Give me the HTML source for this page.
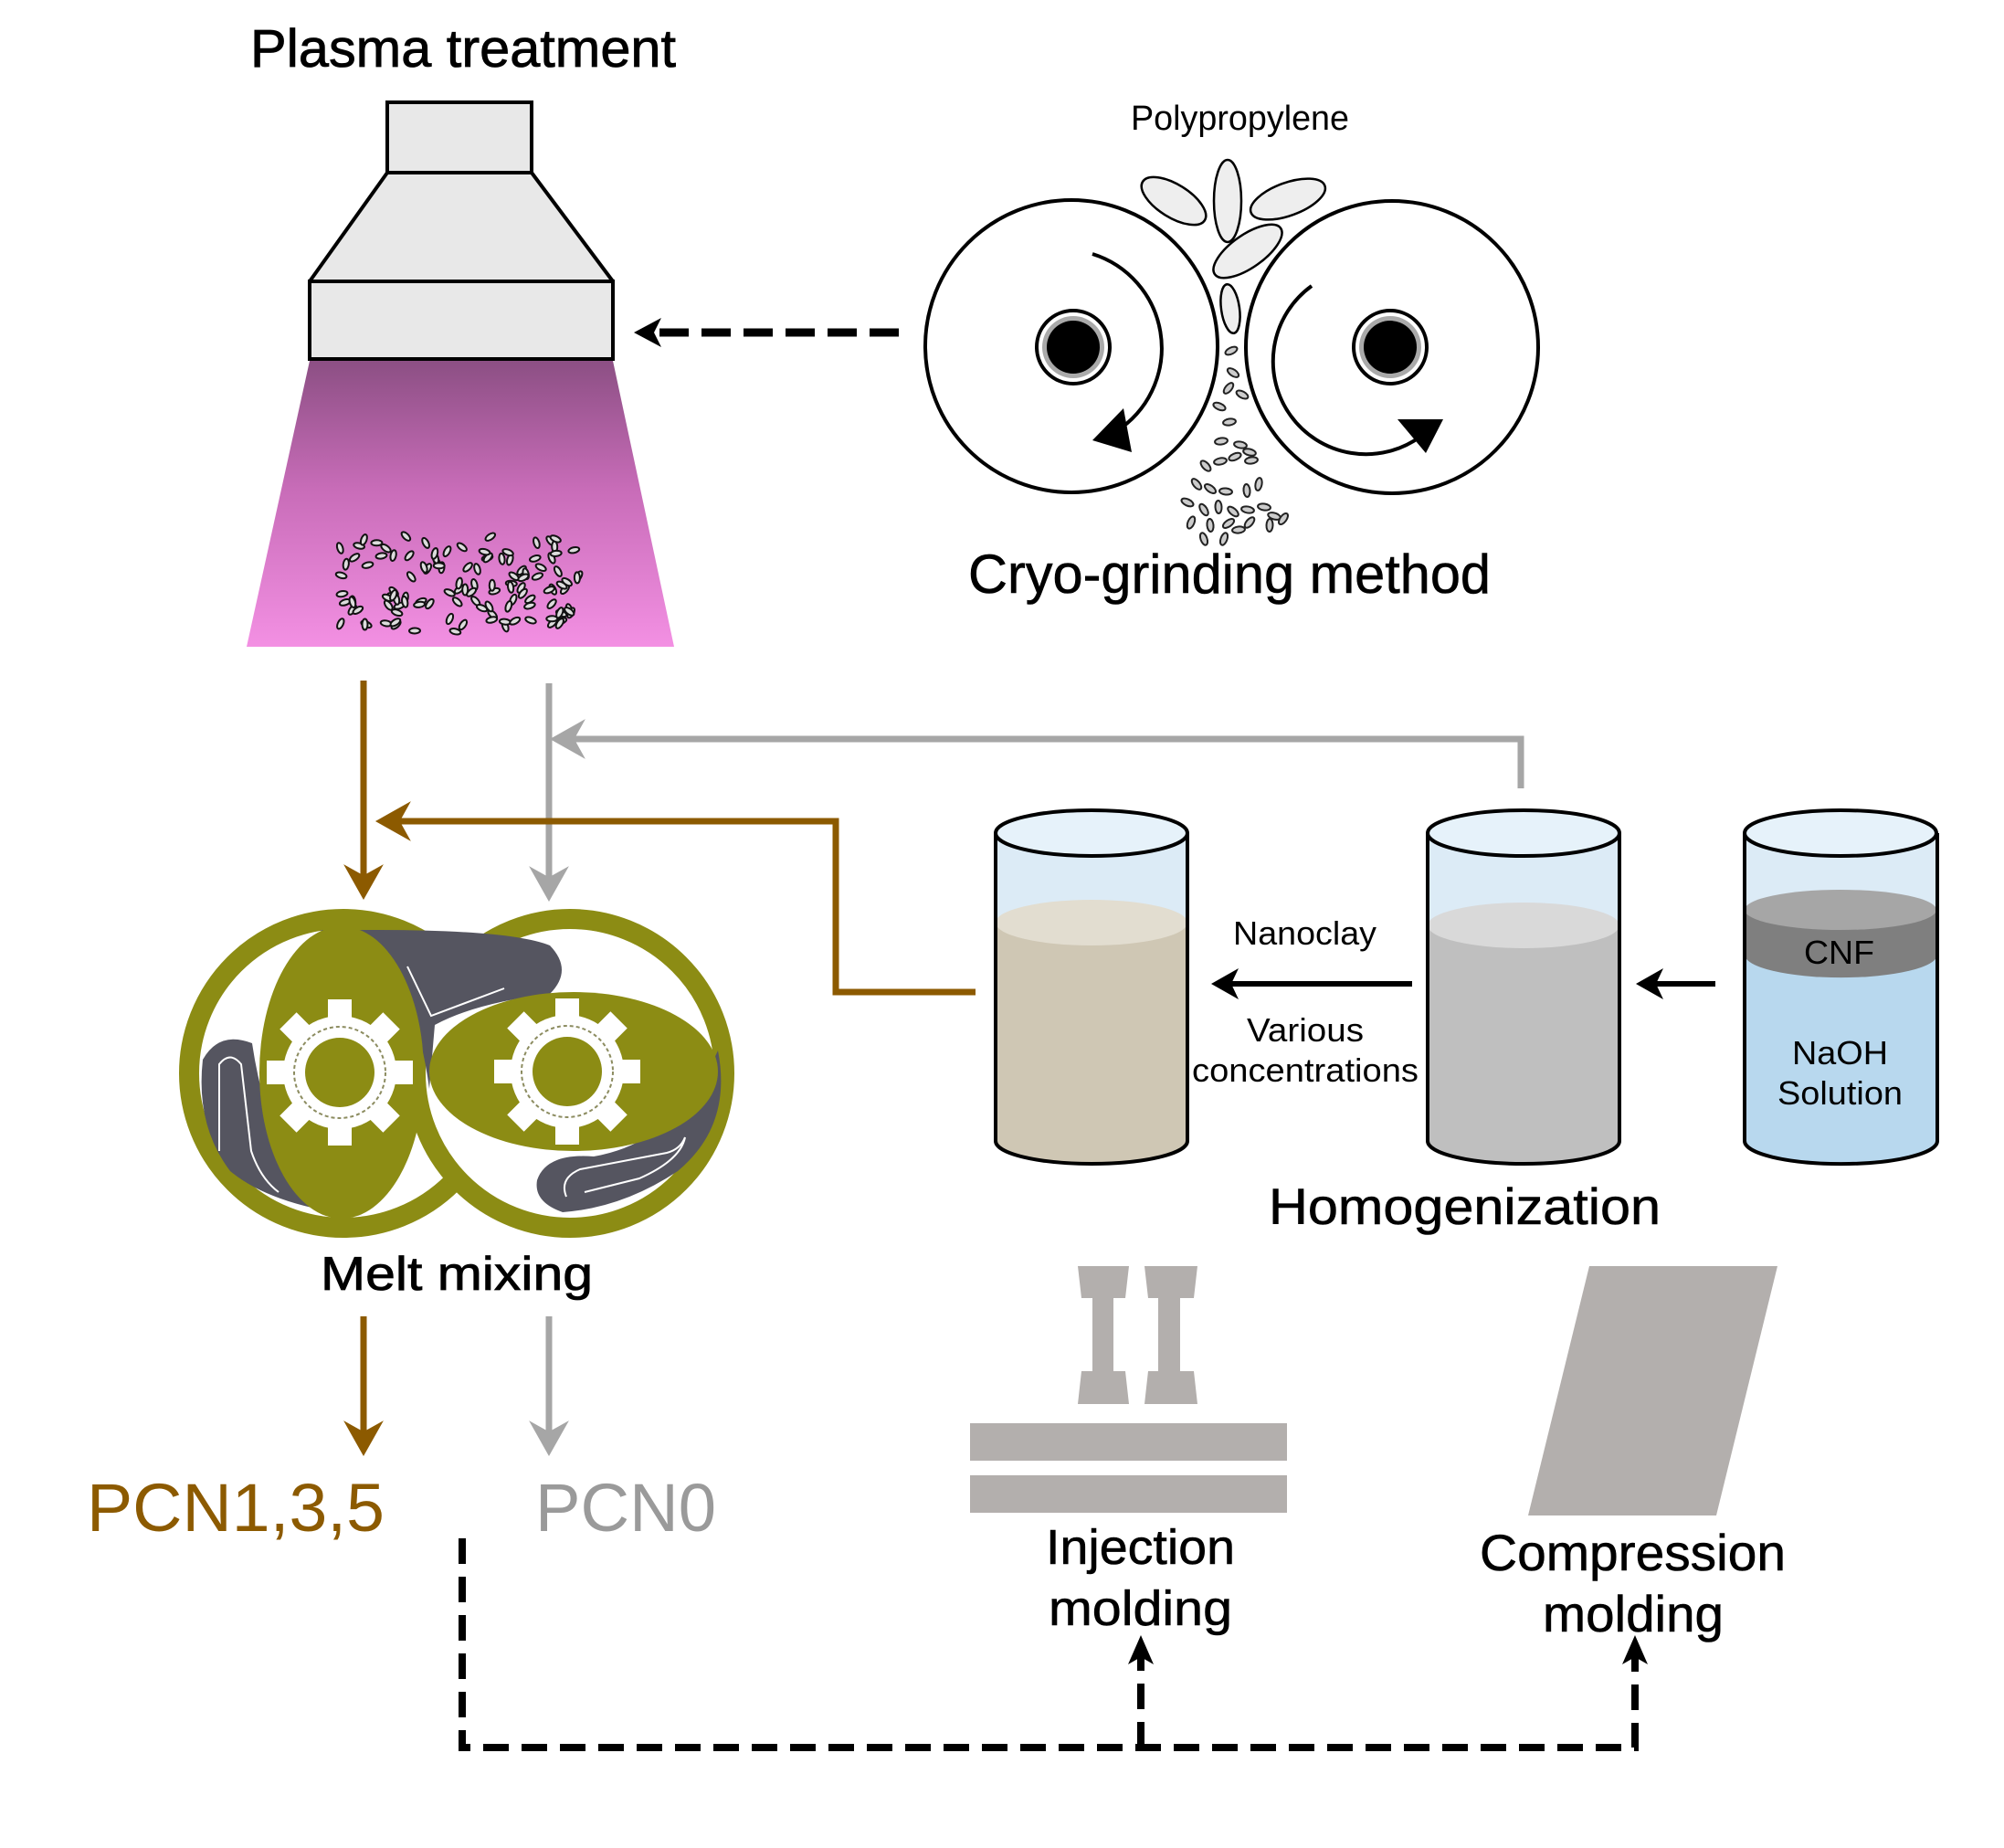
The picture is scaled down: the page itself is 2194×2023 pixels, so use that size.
<!DOCTYPE html>
<html><head><meta charset="utf-8"><style>
html,body{margin:0;padding:0;background:#fff;}
svg{display:block;}
text{font-family:"Liberation Sans",Arial,sans-serif;}
</style></head><body>
<svg id="s" width="2194" height="2023" viewBox="0 0 2194 2023" xmlns="http://www.w3.org/2000/svg">
<defs>
<linearGradient id="pink" x1="0" y1="0" x2="0" y2="1">
<stop offset="0" stop-color="#8c4f84"/><stop offset="0.45" stop-color="#c86cb8"/><stop offset="1" stop-color="#f390e3"/>
</linearGradient>
</defs>

<!-- Plasma -->
<text x="274" y="73" font-size="58" textLength="466" lengthAdjust="spacingAndGlyphs" stroke="#000" stroke-width="0.8">Plasma treatment</text>
<rect x="424" y="112" width="158" height="77" fill="#e8e8e8" stroke="#000" stroke-width="4"/>
<polygon points="424,189 582,189 671,308 339,308" fill="#e8e8e8" stroke="#000" stroke-width="4" stroke-linejoin="round"/>
<rect x="339" y="308" width="332" height="85" fill="#e8e8e8" stroke="#000" stroke-width="4"/>
<polygon points="339,395 671,395 738,708 270,708" fill="url(#pink)"/>
<g id="pp"></g>

<!-- dashed arrow top -->
<line x1="984" y1="364" x2="716" y2="364" stroke="#000" stroke-width="9" stroke-dasharray="32 14"/>
<polygon points="694,364 724,348 716,364 724,380" fill="#000"/>

<!-- cryo grinding -->
<text x="1238" y="142" font-size="38" textLength="239" lengthAdjust="spacingAndGlyphs">Polypropylene</text>
<circle cx="1173" cy="379" r="160" fill="#fff" stroke="#000" stroke-width="4"/>
<circle cx="1524" cy="380" r="160" fill="#fff" stroke="#000" stroke-width="4"/>
<circle cx="1175" cy="380" r="40" fill="#fff" stroke="#000" stroke-width="4"/>
<circle cx="1175" cy="380" r="34" fill="#aaa"/>
<circle cx="1175" cy="380" r="29" fill="#000"/>
<circle cx="1522" cy="380" r="40" fill="#fff" stroke="#000" stroke-width="4"/>
<circle cx="1522" cy="380" r="34" fill="#aaa"/>
<circle cx="1522" cy="380" r="29" fill="#000"/>
<path d="M1196,278 A108,108 0 0 1 1228,468" fill="none" stroke="#000" stroke-width="4"/>
<polygon points="1196,482 1230,447 1239,495" fill="#000"/>
<path d="M1436,313 A100,100 0 0 0 1555,478" fill="none" stroke="#000" stroke-width="4"/>
<polygon points="1530,459 1580,459 1561,496" fill="#000"/>
<g fill="#eee" stroke="#000" stroke-width="2.5">
<ellipse cx="1285" cy="220" rx="40" ry="18" transform="rotate(32 1285 220)"/>
<ellipse cx="1344" cy="220" rx="15" ry="45"/>
<ellipse cx="1410" cy="218" rx="43" ry="18" transform="rotate(-20 1410 218)"/>
<ellipse cx="1366" cy="275" rx="44" ry="18" transform="rotate(-35 1366 275)"/>
<ellipse cx="1347" cy="338" rx="10" ry="27" transform="rotate(-8 1347 338)"/>
</g>
<g id="cp"></g>
<text x="1060" y="649" font-size="60" textLength="572" lengthAdjust="spacingAndGlyphs" stroke="#000" stroke-width="0.6">Cryo-grinding method</text>

<!-- connectors -->
<g fill="none" stroke-width="7">
<path d="M398,745 V960" stroke="#8c5a00"/>
<path d="M601,748 V962" stroke="#a6a6a6"/>
<path d="M1665,863 V809 H625" stroke="#a6a6a6"/>
<path d="M1068,1086 H915 V899 H434" stroke="#8c5a00"/>
<path d="M398,1441 V1568" stroke="#8c5a00"/>
<path d="M601,1441 V1568" stroke="#a6a6a6"/>
</g>
<polygon points="398,982 380,950 398,960 416,950" fill="#8c5a00" stroke="#8c5a00" stroke-width="3"/>
<polygon points="601,984 583,952 601,962 619,952" fill="#a6a6a6" stroke="#a6a6a6" stroke-width="3"/>
<polygon points="605,809 637,791 627,809 637,827" fill="#a6a6a6" stroke="#a6a6a6" stroke-width="3"/>
<polygon points="414,899 446,881 436,899 446,917" fill="#8c5a00" stroke="#8c5a00" stroke-width="3"/>
<polygon points="398,1591 380,1559 398,1569 416,1559" fill="#8c5a00" stroke="#8c5a00" stroke-width="3"/>
<polygon points="601,1591 583,1559 601,1569 619,1559" fill="#a6a6a6" stroke="#a6a6a6" stroke-width="3"/>

<!-- mixer -->
<g>
<circle cx="376" cy="1175" r="169" fill="#fff" stroke="#8c8c14" stroke-width="22"/>
<circle cx="624" cy="1175" r="169" fill="#fff" stroke="#8c8c14" stroke-width="22"/>
<path d="M480,1040 A169,169 0 0 1 520,1040" fill="none"/>
<path d="M222,1160 Q240,1128 276,1142 Q292,1250 345,1325 L405,1332 Q300,1322 252,1282 Q214,1232 222,1160 Z" fill="#555560"/>
<path d="M350,1018 L412,1018 Q560,1018 602,1035 Q628,1062 602,1088 Q520,1098 476,1122 L470,1192 Q458,1100 420,1058 Q390,1030 350,1018 Z" fill="#555560"/>
<path d="M588,1292 Q598,1262 650,1266 Q742,1250 786,1150 Q802,1232 742,1282 Q682,1322 616,1327 Q584,1316 588,1292 Z" fill="#555560"/>
<ellipse cx="374" cy="1174" rx="90" ry="160" fill="#8c8c14"/>
<ellipse cx="628" cy="1173" rx="158" ry="87" fill="#8c8c14"/>
<path d="M240,1260 L240,1165 Q252,1150 264,1165 L275,1260 Q285,1290 305,1305" fill="none" stroke="#fff" stroke-width="2"/>
<path d="M446,1058 L472,1112 L552,1082" fill="none" stroke="#fff" stroke-width="2"/>
<path d="M620,1310 Q612,1290 635,1280 L730,1262 Q745,1258 750,1245 Q745,1270 700,1290 L640,1305" fill="none" stroke="#fff" stroke-width="2"/>
<g id="gears"></g>
</g>
<text x="351" y="1412" font-size="52" textLength="298" lengthAdjust="spacingAndGlyphs" stroke="#000" stroke-width="0.8">Melt mixing</text>
<text x="95" y="1676" font-size="74" fill="#8c5a00" textLength="326" lengthAdjust="spacingAndGlyphs">PCN1,3,5</text>
<text x="586" y="1676" font-size="74" fill="#9a9a9a" textLength="198" lengthAdjust="spacingAndGlyphs">PCN0</text>

<!-- beakers -->
<g stroke="#000" stroke-width="4">
<!-- beaker 1 -->
<rect x="1090" y="912" width="210" height="100" fill="#dcebf6" stroke="none"/>
<path d="M1090,1010 V1249 A105,25 0 0 0 1300,1249 V1010 Z" fill="#cfc7b4" stroke="none"/>
<ellipse cx="1195" cy="1010" rx="105" ry="25" fill="#e2ddd0" stroke="none"/>
<path d="M1090,912 V1249 A105,25 0 0 0 1300,1249 V912" fill="none"/>
<ellipse cx="1195" cy="912" rx="105" ry="25" fill="#e6f2fa"/>
<!-- beaker 2 -->
<rect x="1563" y="912" width="210" height="104" fill="#dcebf6" stroke="none"/>
<path d="M1563,1013 V1249 A105,25 0 0 0 1773,1249 V1013 Z" fill="#bfbfbf" stroke="none"/>
<ellipse cx="1668" cy="1013" rx="105" ry="25" fill="#d9d9d9" stroke="none"/>
<path d="M1563,912 V1249 A105,25 0 0 0 1773,1249 V912" fill="none"/>
<ellipse cx="1668" cy="912" rx="105" ry="25" fill="#e6f2fa"/>
<!-- beaker 3 -->
<rect x="1910" y="912" width="211" height="90" fill="#dcebf6" stroke="none"/>
<path d="M1910,1040 V1249 A105,25 0 0 0 2121,1249 V1040 Z" fill="#b8d8ee" stroke="none"/>
<path d="M1910,996 V1045 A105,25 0 0 0 2121,1045 V996 Z" fill="#7f7f7f" stroke="none"/>
<ellipse cx="2015" cy="996" rx="105" ry="22" fill="#a6a6a6" stroke="none"/>
<path d="M1910,912 V1249 A105,25 0 0 0 2121,1249 V912" fill="none"/>
<ellipse cx="2015" cy="912" rx="105" ry="25" fill="#e6f2fa"/>
</g>
<line x1="1546" y1="1077" x2="1346" y2="1077" stroke="#000" stroke-width="6"/>
<polygon points="1326,1077 1356,1060 1348,1077 1356,1094" fill="#000"/>
<line x1="1878" y1="1077" x2="1810" y2="1077" stroke="#000" stroke-width="6"/>
<polygon points="1791,1077 1821,1060 1813,1077 1821,1094" fill="#000"/>
<text x="1350" y="1034" font-size="36" textLength="157" lengthAdjust="spacingAndGlyphs">Nanoclay</text>
<text x="1365" y="1140" font-size="36" textLength="128" lengthAdjust="spacingAndGlyphs">Various</text>
<text x="1305" y="1184" font-size="36" textLength="248" lengthAdjust="spacingAndGlyphs">concentrations</text>
<text x="1975" y="1055" font-size="36" textLength="77" lengthAdjust="spacingAndGlyphs">CNF</text>
<text x="1962" y="1165" font-size="36" textLength="105" lengthAdjust="spacingAndGlyphs">NaOH</text>
<text x="1946" y="1209" font-size="36" textLength="137" lengthAdjust="spacingAndGlyphs">Solution</text>
<text x="1389" y="1340" font-size="56" textLength="429" lengthAdjust="spacingAndGlyphs" stroke="#000" stroke-width="0.6">Homogenization</text>

<!-- molding -->
<g fill="#b3afad">
<polygon points="1180,1386 1236,1386 1232,1421 1219,1421 1219,1501 1232,1501 1236,1537 1180,1537 1184,1501 1196,1501 1196,1421 1184,1421"/>
<polygon points="1253,1386 1311,1386 1307,1421 1292,1421 1292,1501 1307,1501 1311,1537 1253,1537 1257,1501 1268,1501 1268,1421 1257,1421"/>
<rect x="1062" y="1558" width="347" height="41"/>
<rect x="1062" y="1615" width="347" height="41"/>
<polygon points="1740,1386 1946,1386 1879,1659 1673,1659"/>
</g>
<text x="1145" y="1712" font-size="54" textLength="207" lengthAdjust="spacingAndGlyphs" stroke="#000" stroke-width="0.6">Injection</text>
<text x="1148" y="1779" font-size="54" textLength="201" lengthAdjust="spacingAndGlyphs" stroke="#000" stroke-width="0.6">molding</text>
<text x="1620" y="1719" font-size="56" textLength="335" lengthAdjust="spacingAndGlyphs" stroke="#000" stroke-width="0.6">Compression</text>
<text x="1689" y="1786" font-size="56" textLength="198" lengthAdjust="spacingAndGlyphs" stroke="#000" stroke-width="0.6">molding</text>

<!-- dashed bottom -->
<path d="M506,1684 V1913 H1790 V1812" fill="none" stroke="#000" stroke-width="8" stroke-dasharray="28 14"/>
<path d="M1249,1913 V1812" fill="none" stroke="#000" stroke-width="8" stroke-dasharray="28 14"/>
<polygon points="1249,1790 1263,1822 1249,1814 1235,1822" fill="#000"/>
<polygon points="1790,1790 1804,1822 1790,1814 1776,1822" fill="#000"/>
</svg>
<script>
(function(){
var NS="http://www.w3.org/2000/svg";
var seed=7;function r(){seed=(seed*16807)%2147483647;return (seed-1)/2147483646;}
function el(p,t,a){var e=document.createElementNS(NS,t);for(var k in a)e.setAttribute(k,a[k]);p.appendChild(e);return e;}
var pp=document.getElementById("pp");
for(var i=0;i<120;i++){
  var x=372+r()*263,y=586+r()*106;
  var dx=(x-503)/131,dy=(y-639)/55; if(dx*dx*0.6+dy*dy>1.25) {i--;continue;}
  var a=r()*180;
  el(pp,"ellipse",{cx:x.toFixed(1),cy:y.toFixed(1),rx:6,ry:3,fill:"#ddd",stroke:"#111","stroke-width":2,transform:"rotate("+a.toFixed(0)+" "+x.toFixed(1)+" "+y.toFixed(1)+")"});
}
var cp=document.getElementById("cp");
var pts=[[1348,384],[1350,408],[1345,425],[1360,432],[1335,445],[1346,462],[1337,483],[1358,487],[1368,495],[1320,510],[1336,505],[1352,500],[1370,504],[1310,530],[1325,535],[1342,538],[1365,537],[1378,530],[1300,550],[1318,558],[1334,555],[1350,560],[1366,558],[1384,555],[1395,565],[1304,572],[1325,575],[1345,573],[1368,572],[1390,575],[1405,568],[1318,590],[1340,590],[1356,580]];
for(var j=0;j<pts.length;j++){var x=pts[j][0],y=pts[j][1],a=r()*180;
 el(cp,"ellipse",{cx:x,cy:y,rx:7,ry:3.5,fill:"#ccc",stroke:"#222","stroke-width":2,transform:"rotate("+a.toFixed(0)+" "+x+" "+y+")"});}
var g=document.getElementById("gears");
[[372,1174],[621,1173]].forEach(function(c){
  var cx=c[0],cy=c[1];
  for(var k=0;k<8;k++){var ang=k*45;
    el(g,"rect",{x:cx-13,y:cy-80,width:26,height:30,fill:"#fff",transform:"rotate("+ang+" "+cx+" "+cy+")"});}
  el(g,"circle",{cx:cx,cy:cy,r:62,fill:"#fff"});
  el(g,"circle",{cx:cx,cy:cy,r:50,fill:"none",stroke:"#8c8c60","stroke-width":2,"stroke-dasharray":"4 3"});
  el(g,"circle",{cx:cx,cy:cy,r:38,fill:"#8c8c14"});
});
})();
</script>
</body></html>
